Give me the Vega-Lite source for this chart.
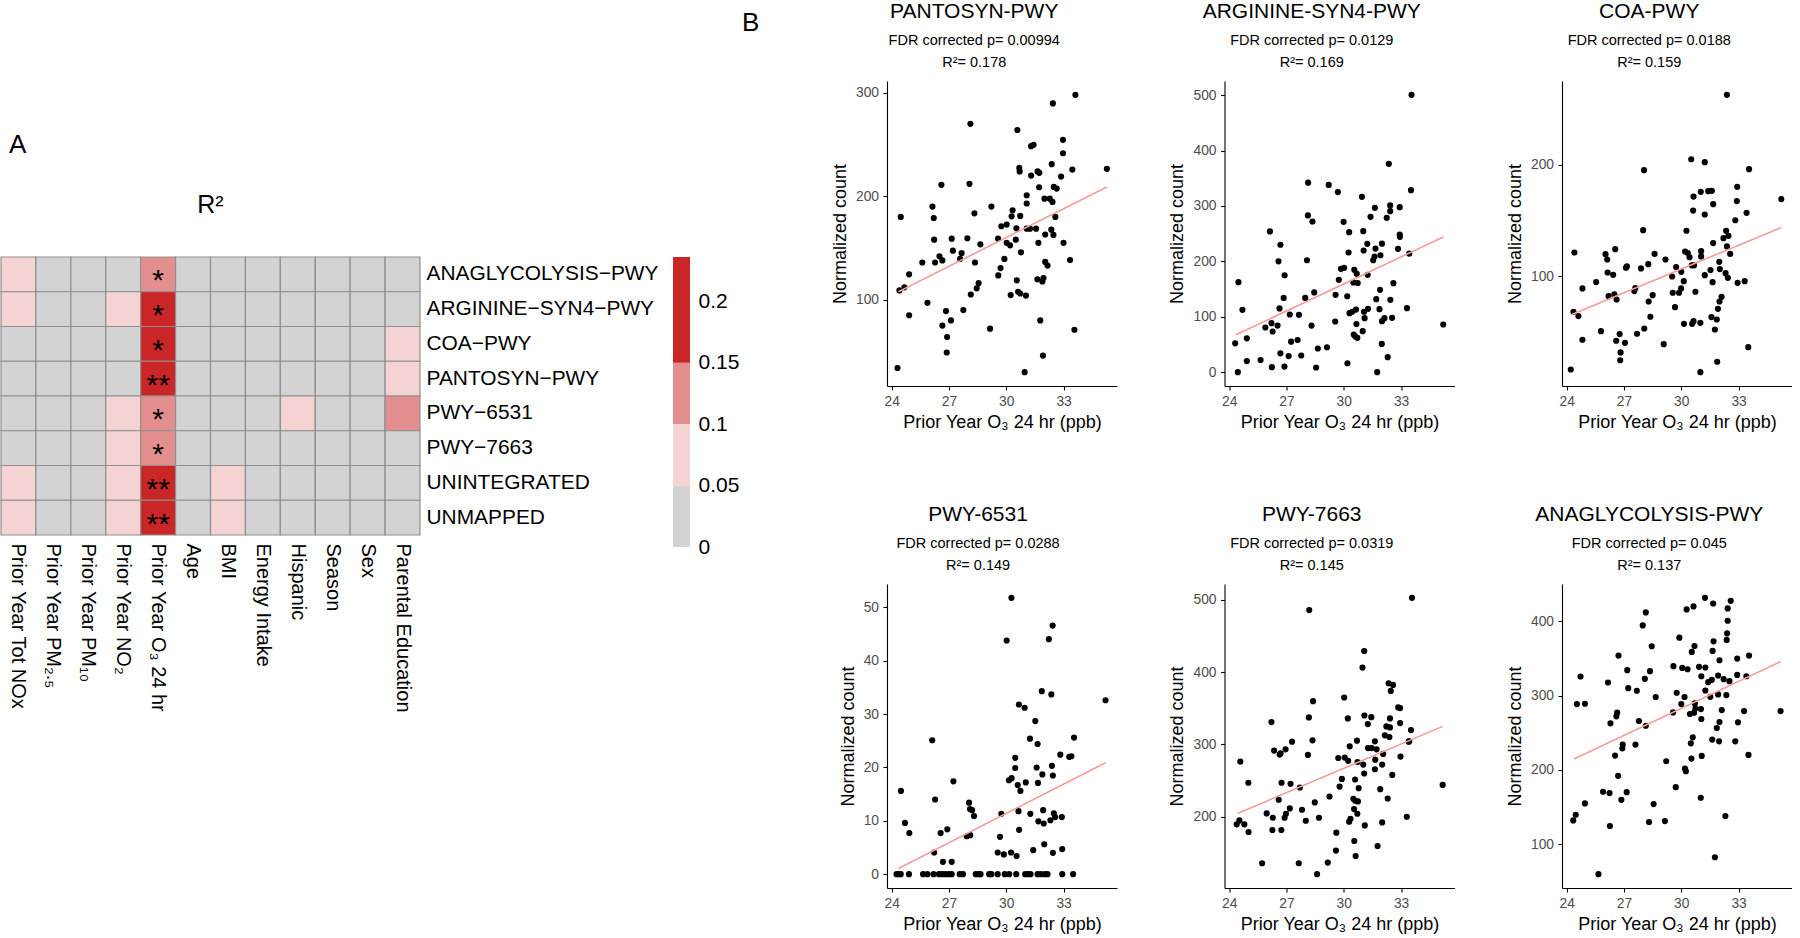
{
"$schema":"https://vega.github.io/schema/vega-lite/v6.json",
"padding":{"top":1,"left":0,"right":0,"bottom":0},
"background":"white",
"config":{
 "font":"Liberation Sans",
 "view":{"stroke":null},
 "axis":{"grid":false,"domainColor":"black","domainWidth":1.1,"tickColor":"black","tickWidth":1.1,"tickSize":4,"labelColor":"#4D4D4D","labelFontSize":13.8,"labelPadding":4.5,"labelFlush":false,"titleFontSize":18,"titleFontWeight":"normal","titleColor":"black","labelFont":"Liberation Sans","titleFont":"Liberation Sans"},
 "title":{"font":"Liberation Sans","subtitleFont":"Liberation Sans","fontWeight":"normal","fontSize":21,"subtitleFontSize":14.5,"subtitleLineHeight":22,"subtitlePadding":12,"offset":11.5,"anchor":"middle","frame":"bounds","color":"black","subtitleColor":"black"}
},
"datasets":{
 "heat":[
{"p":"ANAGLYCOLYSIS−PWY","v":"Prior Year Tot NOx","r2":0.07,"s":""},{"p":"ANAGLYCOLYSIS−PWY","v":"Prior Year PM₂.₅","r2":0.02,"s":""},{"p":"ANAGLYCOLYSIS−PWY","v":"Prior Year PM₁₀","r2":0.02,"s":""},{"p":"ANAGLYCOLYSIS−PWY","v":"Prior Year NO₂","r2":0.03,"s":""},{"p":"ANAGLYCOLYSIS−PWY","v":"Prior Year O₃ 24 hr","r2":0.137,"s":"*"},{"p":"ANAGLYCOLYSIS−PWY","v":"Age","r2":0.02,"s":""},{"p":"ANAGLYCOLYSIS−PWY","v":"BMI","r2":0.02,"s":""},{"p":"ANAGLYCOLYSIS−PWY","v":"Energy Intake","r2":0.02,"s":""},{"p":"ANAGLYCOLYSIS−PWY","v":"Hispanic","r2":0.02,"s":""},{"p":"ANAGLYCOLYSIS−PWY","v":"Season","r2":0.02,"s":""},{"p":"ANAGLYCOLYSIS−PWY","v":"Sex","r2":0.02,"s":""},{"p":"ANAGLYCOLYSIS−PWY","v":"Parental Education","r2":0.03,"s":""},
{"p":"ARGININE−SYN4−PWY","v":"Prior Year Tot NOx","r2":0.06,"s":""},{"p":"ARGININE−SYN4−PWY","v":"Prior Year PM₂.₅","r2":0.02,"s":""},{"p":"ARGININE−SYN4−PWY","v":"Prior Year PM₁₀","r2":0.02,"s":""},{"p":"ARGININE−SYN4−PWY","v":"Prior Year NO₂","r2":0.06,"s":""},{"p":"ARGININE−SYN4−PWY","v":"Prior Year O₃ 24 hr","r2":0.169,"s":"*"},{"p":"ARGININE−SYN4−PWY","v":"Age","r2":0.02,"s":""},{"p":"ARGININE−SYN4−PWY","v":"BMI","r2":0.02,"s":""},{"p":"ARGININE−SYN4−PWY","v":"Energy Intake","r2":0.02,"s":""},{"p":"ARGININE−SYN4−PWY","v":"Hispanic","r2":0.02,"s":""},{"p":"ARGININE−SYN4−PWY","v":"Season","r2":0.02,"s":""},{"p":"ARGININE−SYN4−PWY","v":"Sex","r2":0.02,"s":""},{"p":"ARGININE−SYN4−PWY","v":"Parental Education","r2":0.02,"s":""},
{"p":"COA−PWY","v":"Prior Year Tot NOx","r2":0.03,"s":""},{"p":"COA−PWY","v":"Prior Year PM₂.₅","r2":0.02,"s":""},{"p":"COA−PWY","v":"Prior Year PM₁₀","r2":0.02,"s":""},{"p":"COA−PWY","v":"Prior Year NO₂","r2":0.03,"s":""},{"p":"COA−PWY","v":"Prior Year O₃ 24 hr","r2":0.159,"s":"*"},{"p":"COA−PWY","v":"Age","r2":0.02,"s":""},{"p":"COA−PWY","v":"BMI","r2":0.02,"s":""},{"p":"COA−PWY","v":"Energy Intake","r2":0.02,"s":""},{"p":"COA−PWY","v":"Hispanic","r2":0.02,"s":""},{"p":"COA−PWY","v":"Season","r2":0.02,"s":""},{"p":"COA−PWY","v":"Sex","r2":0.02,"s":""},{"p":"COA−PWY","v":"Parental Education","r2":0.07,"s":""},
{"p":"PANTOSYN−PWY","v":"Prior Year Tot NOx","r2":0.03,"s":""},{"p":"PANTOSYN−PWY","v":"Prior Year PM₂.₅","r2":0.02,"s":""},{"p":"PANTOSYN−PWY","v":"Prior Year PM₁₀","r2":0.02,"s":""},{"p":"PANTOSYN−PWY","v":"Prior Year NO₂","r2":0.03,"s":""},{"p":"PANTOSYN−PWY","v":"Prior Year O₃ 24 hr","r2":0.178,"s":"**"},{"p":"PANTOSYN−PWY","v":"Age","r2":0.02,"s":""},{"p":"PANTOSYN−PWY","v":"BMI","r2":0.02,"s":""},{"p":"PANTOSYN−PWY","v":"Energy Intake","r2":0.02,"s":""},{"p":"PANTOSYN−PWY","v":"Hispanic","r2":0.02,"s":""},{"p":"PANTOSYN−PWY","v":"Season","r2":0.02,"s":""},{"p":"PANTOSYN−PWY","v":"Sex","r2":0.02,"s":""},{"p":"PANTOSYN−PWY","v":"Parental Education","r2":0.06,"s":""},
{"p":"PWY−6531","v":"Prior Year Tot NOx","r2":0.03,"s":""},{"p":"PWY−6531","v":"Prior Year PM₂.₅","r2":0.02,"s":""},{"p":"PWY−6531","v":"Prior Year PM₁₀","r2":0.02,"s":""},{"p":"PWY−6531","v":"Prior Year NO₂","r2":0.06,"s":""},{"p":"PWY−6531","v":"Prior Year O₃ 24 hr","r2":0.149,"s":"*"},{"p":"PWY−6531","v":"Age","r2":0.02,"s":""},{"p":"PWY−6531","v":"BMI","r2":0.02,"s":""},{"p":"PWY−6531","v":"Energy Intake","r2":0.02,"s":""},{"p":"PWY−6531","v":"Hispanic","r2":0.06,"s":""},{"p":"PWY−6531","v":"Season","r2":0.02,"s":""},{"p":"PWY−6531","v":"Sex","r2":0.02,"s":""},{"p":"PWY−6531","v":"Parental Education","r2":0.11,"s":""},
{"p":"PWY−7663","v":"Prior Year Tot NOx","r2":0.03,"s":""},{"p":"PWY−7663","v":"Prior Year PM₂.₅","r2":0.02,"s":""},{"p":"PWY−7663","v":"Prior Year PM₁₀","r2":0.02,"s":""},{"p":"PWY−7663","v":"Prior Year NO₂","r2":0.07,"s":""},{"p":"PWY−7663","v":"Prior Year O₃ 24 hr","r2":0.145,"s":"*"},{"p":"PWY−7663","v":"Age","r2":0.02,"s":""},{"p":"PWY−7663","v":"BMI","r2":0.02,"s":""},{"p":"PWY−7663","v":"Energy Intake","r2":0.02,"s":""},{"p":"PWY−7663","v":"Hispanic","r2":0.02,"s":""},{"p":"PWY−7663","v":"Season","r2":0.02,"s":""},{"p":"PWY−7663","v":"Sex","r2":0.02,"s":""},{"p":"PWY−7663","v":"Parental Education","r2":0.02,"s":""},
{"p":"UNINTEGRATED","v":"Prior Year Tot NOx","r2":0.06,"s":""},{"p":"UNINTEGRATED","v":"Prior Year PM₂.₅","r2":0.02,"s":""},{"p":"UNINTEGRATED","v":"Prior Year PM₁₀","r2":0.02,"s":""},{"p":"UNINTEGRATED","v":"Prior Year NO₂","r2":0.08,"s":""},{"p":"UNINTEGRATED","v":"Prior Year O₃ 24 hr","r2":0.21,"s":"**"},{"p":"UNINTEGRATED","v":"Age","r2":0.02,"s":""},{"p":"UNINTEGRATED","v":"BMI","r2":0.06,"s":""},{"p":"UNINTEGRATED","v":"Energy Intake","r2":0.02,"s":""},{"p":"UNINTEGRATED","v":"Hispanic","r2":0.02,"s":""},{"p":"UNINTEGRATED","v":"Season","r2":0.02,"s":""},{"p":"UNINTEGRATED","v":"Sex","r2":0.02,"s":""},{"p":"UNINTEGRATED","v":"Parental Education","r2":0.02,"s":""},
{"p":"UNMAPPED","v":"Prior Year Tot NOx","r2":0.06,"s":""},{"p":"UNMAPPED","v":"Prior Year PM₂.₅","r2":0.02,"s":""},{"p":"UNMAPPED","v":"Prior Year PM₁₀","r2":0.02,"s":""},{"p":"UNMAPPED","v":"Prior Year NO₂","r2":0.08,"s":""},{"p":"UNMAPPED","v":"Prior Year O₃ 24 hr","r2":0.21,"s":"**"},{"p":"UNMAPPED","v":"Age","r2":0.02,"s":""},{"p":"UNMAPPED","v":"BMI","r2":0.06,"s":""},{"p":"UNMAPPED","v":"Energy Intake","r2":0.02,"s":""},{"p":"UNMAPPED","v":"Hispanic","r2":0.02,"s":""},{"p":"UNMAPPED","v":"Season","r2":0.02,"s":""},{"p":"UNMAPPED","v":"Sex","r2":0.02,"s":""},{"p":"UNMAPPED","v":"Parental Education","r2":0.02,"s":""}
 ],
 "leg":[{"lo":0,"hi":0.05,"r2":0},{"lo":0.05,"hi":0.1,"r2":0.05},{"lo":0.1,"hi":0.15,"r2":0.1},{"lo":0.15,"hi":0.236,"r2":0.15}],
 "fit":[{"k":"a","x":24.35,"y":107.7},{"k":"a","x":35.27,"y":209},{"k":"b","x":24.35,"y":67.4},{"k":"b","x":35.21,"y":244},{"k":"c","x":24.26,"y":66},{"k":"c","x":35.24,"y":143.9},{"k":"d","x":24.33,"y":1.0},{"k":"d","x":35.2,"y":20.9},{"k":"e","x":24.43,"y":204.6},{"k":"e","x":35.18,"y":325},{"k":"f","x":24.38,"y":214.9},{"k":"f","x":35.2,"y":345.9}],
 "pts":[
{"k":"a","x":24.30,"y":34},{"k":"a","x":24.47,"y":180},{"k":"a","x":24.40,"y":109},{"k":"a","x":24.66,"y":112},{"k":"a","x":24.91,"y":124.5},{"k":"a","x":24.91,"y":85},{"k":"a","x":25.6,"y":136},{"k":"a","x":25.87,"y":97},{"k":"a","x":26.13,"y":190},{"k":"a","x":26.2,"y":179},{"k":"a","x":26.22,"y":158},{"k":"a","x":26.27,"y":136},{"k":"a","x":26.5,"y":142},{"k":"a","x":26.6,"y":211},{"k":"a","x":26.65,"y":138},{"k":"a","x":26.65,"y":75},{"k":"a","x":26.84,"y":89},{"k":"a","x":26.9,"y":64},{"k":"a","x":26.88,"y":49},{"k":"a","x":27.14,"y":159},{"k":"a","x":27.2,"y":147.4},{"k":"a","x":27.1,"y":80},{"k":"a","x":27.58,"y":139.4},{"k":"a","x":27.66,"y":145},{"k":"a","x":27.75,"y":90},{"k":"a","x":27.96,"y":159.4},{"k":"a","x":28.07,"y":212},{"k":"a","x":28.12,"y":270},{"k":"a","x":28.14,"y":105},{"k":"a","x":28.33,"y":183.5},{"k":"a","x":28.36,"y":136},{"k":"a","x":28.45,"y":111},{"k":"a","x":28.55,"y":116},{"k":"a","x":28.64,"y":153.5},{"k":"a","x":29.15,"y":72},{"k":"a","x":29.22,"y":190},{"k":"a","x":29.57,"y":159},{"k":"a","x":29.58,"y":123.5},{"k":"a","x":29.7,"y":130.6},{"k":"a","x":29.74,"y":171},{"k":"a","x":29.9,"y":139.4},{"k":"a","x":30.02,"y":172.6},{"k":"a","x":30.02,"y":155},{"k":"a","x":30.2,"y":152.6},{"k":"a","x":30.23,"y":104.5},{"k":"a","x":30.28,"y":180.6},{"k":"a","x":30.33,"y":186.5},{"k":"a","x":30.5,"y":158},{"k":"a","x":30.53,"y":169},{"k":"a","x":30.55,"y":118.7},{"k":"a","x":30.62,"y":107.7},{"k":"a","x":30.58,"y":264},{"k":"a","x":30.68,"y":227.4},{"k":"a","x":30.7,"y":224},{"k":"a","x":30.73,"y":181},{"k":"a","x":30.77,"y":145.8},{"k":"a","x":30.73,"y":106},{"k":"a","x":30.96,"y":30},{"k":"a","x":31.07,"y":201},{"k":"a","x":31.07,"y":193},{"k":"a","x":31.03,"y":104},{"k":"a","x":31.07,"y":168.7},{"k":"a","x":31.24,"y":168.7},{"k":"a","x":31.3,"y":220},{"k":"a","x":31.3,"y":248.4},{"k":"a","x":31.43,"y":249.7},{"k":"a","x":31.56,"y":168.7},{"k":"a","x":31.64,"y":224},{"k":"a","x":31.68,"y":155},{"k":"a","x":31.63,"y":119.7},{"k":"a","x":31.72,"y":208.7},{"k":"a","x":31.73,"y":222.6},{"k":"a","x":31.78,"y":80},{"k":"a","x":31.89,"y":117.7},{"k":"a","x":31.92,"y":46},{"k":"a","x":31.95,"y":121},{"k":"a","x":32.0,"y":197.7},{"k":"a","x":32.04,"y":163},{"k":"a","x":32.04,"y":136.5},{"k":"a","x":32.16,"y":133},{"k":"a","x":32.28,"y":197.7},{"k":"a","x":32.36,"y":167.7},{"k":"a","x":32.38,"y":231},{"k":"a","x":32.42,"y":194.5},{"k":"a","x":32.44,"y":289.7},{"k":"a","x":32.47,"y":162.6},{"k":"a","x":32.49,"y":209},{"k":"a","x":32.57,"y":180},{"k":"a","x":32.64,"y":207.4},{"k":"a","x":32.87,"y":219},{"k":"a","x":32.97,"y":241.6},{"k":"a","x":32.97,"y":254.5},{"k":"a","x":33.0,"y":155},{"k":"a","x":33.34,"y":138.4},{"k":"a","x":33.46,"y":225.8},{"k":"a","x":33.57,"y":71},{"k":"a","x":33.62,"y":298},{"k":"a","x":35.27,"y":226.5},
{"k":"b","x":24.31,"y":52},{"k":"b","x":24.45,"y":0},{"k":"b","x":24.48,"y":162.5},{"k":"b","x":24.69,"y":112.5},{"k":"b","x":24.92,"y":61},{"k":"b","x":24.92,"y":20},{"k":"b","x":25.64,"y":22},{"k":"b","x":25.89,"y":80.6},{"k":"b","x":26.13,"y":254},{"k":"b","x":26.21,"y":88.4},{"k":"b","x":26.27,"y":73.4},{"k":"b","x":26.23,"y":9},{"k":"b","x":26.53,"y":84},{"k":"b","x":26.58,"y":200},{"k":"b","x":26.63,"y":115},{"k":"b","x":26.68,"y":230},{"k":"b","x":26.68,"y":34},{"k":"b","x":26.85,"y":134},{"k":"b","x":26.9,"y":175},{"k":"b","x":26.89,"y":10},{"k":"b","x":27.11,"y":29},{"k":"b","x":27.17,"y":104},{"k":"b","x":27.24,"y":55},{"k":"b","x":27.58,"y":58},{"k":"b","x":27.65,"y":103.5},{"k":"b","x":27.77,"y":30},{"k":"b","x":27.98,"y":134},{"k":"b","x":28.07,"y":202},{"k":"b","x":28.12,"y":283},{"k":"b","x":28.13,"y":342},{"k":"b","x":28.31,"y":84},{"k":"b","x":28.36,"y":272},{"k":"b","x":28.45,"y":144},{"k":"b","x":28.55,"y":8.4},{"k":"b","x":28.64,"y":42.7},{"k":"b","x":29.12,"y":45},{"k":"b","x":29.21,"y":338},{"k":"b","x":29.55,"y":91.5},{"k":"b","x":29.57,"y":139.6},{"k":"b","x":29.69,"y":325},{"k":"b","x":29.74,"y":166.7},{"k":"b","x":29.85,"y":186.5},{"k":"b","x":29.99,"y":271.4},{"k":"b","x":30.02,"y":188.3},{"k":"b","x":30.18,"y":137},{"k":"b","x":30.19,"y":16},{"k":"b","x":30.25,"y":216},{"k":"b","x":30.28,"y":252.7},{"k":"b","x":30.3,"y":106.5},{"k":"b","x":30.44,"y":109},{"k":"b","x":30.5,"y":162},{"k":"b","x":30.52,"y":68},{"k":"b","x":30.55,"y":184.7},{"k":"b","x":30.61,"y":64.4},{"k":"b","x":30.64,"y":113},{"k":"b","x":30.66,"y":87},{"k":"b","x":30.68,"y":177.5},{"k":"b","x":30.71,"y":62},{"k":"b","x":30.73,"y":161},{"k":"b","x":30.95,"y":316.5},{"k":"b","x":30.99,"y":74},{"k":"b","x":31.02,"y":254.5},{"k":"b","x":31.04,"y":219.6},{"k":"b","x":31.06,"y":109},{"k":"b","x":31.09,"y":97.5},{"k":"b","x":31.23,"y":231.6},{"k":"b","x":31.25,"y":175.7},{"k":"b","x":31.27,"y":114.3},{"k":"b","x":31.4,"y":280.4},{"k":"b","x":31.54,"y":202},{"k":"b","x":31.61,"y":208.8},{"k":"b","x":31.63,"y":296.6},{"k":"b","x":31.66,"y":223},{"k":"b","x":31.7,"y":131.8},{"k":"b","x":31.75,"y":0},{"k":"b","x":31.87,"y":113.7},{"k":"b","x":31.9,"y":148.6},{"k":"b","x":31.92,"y":211},{"k":"b","x":31.99,"y":51},{"k":"b","x":32.0,"y":232},{"k":"b","x":32.0,"y":92},{"k":"b","x":32.13,"y":97.5},{"k":"b","x":32.25,"y":278.6},{"k":"b","x":32.3,"y":27},{"k":"b","x":32.36,"y":376},{"k":"b","x":32.43,"y":301},{"k":"b","x":32.43,"y":290.6},{"k":"b","x":32.44,"y":130.6},{"k":"b","x":32.53,"y":98},{"k":"b","x":32.6,"y":160.6},{"k":"b","x":32.84,"y":222.6},{"k":"b","x":32.93,"y":248.5},{"k":"b","x":32.93,"y":297.8},{"k":"b","x":32.94,"y":244.3},{"k":"b","x":33.31,"y":115.5},{"k":"b","x":33.43,"y":214},{"k":"b","x":33.52,"y":328.5},{"k":"b","x":33.55,"y":500.6},{"k":"b","x":35.21,"y":86},
{"k":"c","x":24.21,"y":16.7},{"k":"c","x":24.35,"y":68.4},{"k":"c","x":24.4,"y":121.5},{"k":"c","x":24.61,"y":64.5},{"k":"c","x":24.82,"y":89.3},{"k":"c","x":24.82,"y":43.3},{"k":"c","x":25.54,"y":95},{"k":"c","x":25.79,"y":51},{"k":"c","x":26.03,"y":120},{"k":"c","x":26.12,"y":115.2},{"k":"c","x":26.14,"y":103.6},{"k":"c","x":26.19,"y":82.4},{"k":"c","x":26.43,"y":101.5},{"k":"c","x":26.49,"y":84},{"k":"c","x":26.54,"y":124.5},{"k":"c","x":26.59,"y":42.4},{"k":"c","x":26.61,"y":79.4},{"k":"c","x":26.77,"y":48.4},{"k":"c","x":26.82,"y":32},{"k":"c","x":26.8,"y":25},{"k":"c","x":27.05,"y":40.6},{"k":"c","x":27.1,"y":107.8},{"k":"c","x":27.15,"y":109},{"k":"c","x":27.54,"y":86.9},{"k":"c","x":27.59,"y":89.6},{"k":"c","x":27.68,"y":48.7},{"k":"c","x":27.89,"y":107.2},{"k":"c","x":28.0,"y":141.5},{"k":"c","x":28.05,"y":195.2},{"k":"c","x":28.06,"y":53.4},{"k":"c","x":28.27,"y":111},{"k":"c","x":28.29,"y":77.6},{"k":"c","x":28.38,"y":63.9},{"k":"c","x":28.5,"y":83.3},{"k":"c","x":28.6,"y":120.3},{"k":"c","x":29.08,"y":39.4},{"k":"c","x":29.17,"y":115.2},{"k":"c","x":29.52,"y":100},{"k":"c","x":29.55,"y":85.4},{"k":"c","x":29.67,"y":72.5},{"k":"c","x":29.73,"y":108.4},{"k":"c","x":29.88,"y":85.4},{"k":"c","x":29.99,"y":89.3},{"k":"c","x":30.0,"y":104.2},{"k":"c","x":30.13,"y":95.8},{"k":"c","x":30.14,"y":57.6},{"k":"c","x":30.2,"y":122.4},{"k":"c","x":30.27,"y":141},{"k":"c","x":30.34,"y":121},{"k":"c","x":30.43,"y":117.3},{"k":"c","x":30.52,"y":205},{"k":"c","x":30.55,"y":110},{"k":"c","x":30.57,"y":57.6},{"k":"c","x":30.62,"y":159},{"k":"c","x":30.64,"y":171.6},{"k":"c","x":30.64,"y":60},{"k":"c","x":30.67,"y":110},{"k":"c","x":30.74,"y":86.3},{"k":"c","x":31.0,"y":58.5},{"k":"c","x":31.0,"y":14.3},{"k":"c","x":31.02,"y":175.8},{"k":"c","x":31.04,"y":118},{"k":"c","x":31.04,"y":122.7},{"k":"c","x":31.23,"y":155.5},{"k":"c","x":31.23,"y":202.4},{"k":"c","x":31.23,"y":101.2},{"k":"c","x":31.41,"y":176.4},{"k":"c","x":31.53,"y":105.7},{"k":"c","x":31.58,"y":63.6},{"k":"c","x":31.6,"y":176.7},{"k":"c","x":31.64,"y":94.9},{"k":"c","x":31.67,"y":129.9},{"k":"c","x":31.67,"y":164.8},{"k":"c","x":31.76,"y":52.5},{"k":"c","x":31.86,"y":61.5},{"k":"c","x":31.88,"y":23.6},{"k":"c","x":31.92,"y":71},{"k":"c","x":31.99,"y":113.1},{"k":"c","x":32.0,"y":77.6},{"k":"c","x":32.02,"y":106.6},{"k":"c","x":32.11,"y":81.8},{"k":"c","x":32.21,"y":134.3},{"k":"c","x":32.32,"y":103},{"k":"c","x":32.35,"y":140.9},{"k":"c","x":32.39,"y":262.7},{"k":"c","x":32.39,"y":126.9},{"k":"c","x":32.44,"y":98.8},{"k":"c","x":32.47,"y":136.4},{"k":"c","x":32.56,"y":120.3},{"k":"c","x":32.83,"y":150.4},{"k":"c","x":32.91,"y":167.5},{"k":"c","x":32.93,"y":180.3},{"k":"c","x":32.95,"y":94.3},{"k":"c","x":33.32,"y":95.8},{"k":"c","x":33.42,"y":157},{"k":"c","x":33.51,"y":36.7},{"k":"c","x":33.55,"y":196.1},{"k":"c","x":35.24,"y":169.3},
{"k":"d","x":24.25,"y":0},{"k":"d","x":24.37,"y":0},{"k":"d","x":24.47,"y":0},{"k":"d","x":24.48,"y":15.6},{"k":"d","x":24.69,"y":9.6},{"k":"d","x":24.9,"y":0},{"k":"d","x":24.92,"y":7.7},{"k":"d","x":25.64,"y":0},{"k":"d","x":25.87,"y":0},{"k":"d","x":26.12,"y":25.1},{"k":"d","x":26.19,"y":0},{"k":"d","x":26.22,"y":4.05},{"k":"d","x":26.27,"y":14},{"k":"d","x":26.47,"y":0},{"k":"d","x":26.56,"y":7.7},{"k":"d","x":26.64,"y":0},{"k":"d","x":26.68,"y":2.3},{"k":"d","x":26.81,"y":0},{"k":"d","x":26.91,"y":8.4},{"k":"d","x":26.98,"y":0},{"k":"d","x":27.14,"y":0},{"k":"d","x":27.14,"y":2.3},{"k":"d","x":27.23,"y":17.4},{"k":"d","x":27.56,"y":0},{"k":"d","x":27.73,"y":0},{"k":"d","x":27.93,"y":7.1},{"k":"d","x":28.05,"y":13.4},{"k":"d","x":28.1,"y":12.2},{"k":"d","x":28.11,"y":7.3},{"k":"d","x":28.21,"y":12},{"k":"d","x":28.31,"y":10.9},{"k":"d","x":28.4,"y":0},{"k":"d","x":28.55,"y":0},{"k":"d","x":28.65,"y":0},{"k":"d","x":29.1,"y":0},{"k":"d","x":29.22,"y":0},{"k":"d","x":29.55,"y":0},{"k":"d","x":29.55,"y":4.05},{"k":"d","x":29.67,"y":7.0},{"k":"d","x":29.74,"y":11.3},{"k":"d","x":29.87,"y":3.7},{"k":"d","x":29.92,"y":0},{"k":"d","x":30.02,"y":43.8},{"k":"d","x":30.14,"y":17.6},{"k":"d","x":30.15,"y":0},{"k":"d","x":30.25,"y":4.05},{"k":"d","x":30.27,"y":51.8},{"k":"d","x":30.28,"y":18},{"k":"d","x":30.47,"y":21.8},{"k":"d","x":30.47,"y":19.9},{"k":"d","x":30.52,"y":0},{"k":"d","x":30.54,"y":3.4},{"k":"d","x":30.6,"y":16.7},{"k":"d","x":30.64,"y":11.8},{"k":"d","x":30.66,"y":31.8},{"k":"d","x":30.67,"y":8.3},{"k":"d","x":30.74,"y":15.6},{"k":"d","x":30.96,"y":31.2},{"k":"d","x":30.99,"y":0},{"k":"d","x":31.02,"y":17.2},{"k":"d","x":31.14,"y":0},{"k":"d","x":31.24,"y":25.4},{"k":"d","x":31.26,"y":11.3},{"k":"d","x":31.27,"y":0},{"k":"d","x":31.41,"y":4.5},{"k":"d","x":31.52,"y":28.7},{"k":"d","x":31.59,"y":20},{"k":"d","x":31.64,"y":0},{"k":"d","x":31.64,"y":24.4},{"k":"d","x":31.66,"y":17.1},{"k":"d","x":31.68,"y":9.9},{"k":"d","x":31.81,"y":0},{"k":"d","x":31.86,"y":34.3},{"k":"d","x":31.89,"y":18.7},{"k":"d","x":31.93,"y":12},{"k":"d","x":31.96,"y":9.5},{"k":"d","x":31.99,"y":5.6},{"k":"d","x":32.01,"y":0},{"k":"d","x":32.16,"y":0},{"k":"d","x":32.23,"y":44.05},{"k":"d","x":32.31,"y":10.1},{"k":"d","x":32.36,"y":33.7},{"k":"d","x":32.39,"y":20.3},{"k":"d","x":32.43,"y":46.6},{"k":"d","x":32.44,"y":18.5},{"k":"d","x":32.44,"y":4},{"k":"d","x":32.49,"y":11.4},{"k":"d","x":32.56,"y":10.7},{"k":"d","x":32.83,"y":22.4},{"k":"d","x":32.91,"y":10.7},{"k":"d","x":32.93,"y":4.7},{"k":"d","x":32.93,"y":0},{"k":"d","x":33.3,"y":22},{"k":"d","x":33.41,"y":22.1},{"k":"d","x":33.5,"y":0},{"k":"d","x":33.55,"y":25.6},{"k":"d","x":35.2,"y":32.6},
{"k":"e","x":24.39,"y":189.5},{"k":"e","x":24.53,"y":195},{"k":"e","x":24.58,"y":276.3},{"k":"e","x":24.79,"y":189.5},{"k":"e","x":25.0,"y":247},{"k":"e","x":25.01,"y":179},{"k":"e","x":25.72,"y":135.7},{"k":"e","x":25.96,"y":204.6},{"k":"e","x":26.21,"y":331},{"k":"e","x":26.28,"y":198.7},{"k":"e","x":26.26,"y":181.7},{"k":"e","x":26.35,"y":291.5},{"k":"e","x":26.59,"y":223.5},{"k":"e","x":26.64,"y":286},{"k":"e","x":26.69,"y":287.8},{"k":"e","x":26.74,"y":247},{"k":"e","x":26.73,"y":181.7},{"k":"e","x":26.9,"y":198.7},{"k":"e","x":26.95,"y":293.3},{"k":"e","x":26.97,"y":204.2},{"k":"e","x":27.17,"y":211.5},{"k":"e","x":27.21,"y":245.5},{"k":"e","x":27.29,"y":303.9},{"k":"e","x":27.64,"y":135.7},{"k":"e","x":27.7,"y":240.5},{"k":"e","x":27.81,"y":209.7},{"k":"e","x":28.01,"y":194.5},{"k":"e","x":28.12,"y":285.5},{"k":"e","x":28.17,"y":337.4},{"k":"e","x":28.19,"y":485.8},{"k":"e","x":28.36,"y":305.7},{"k":"e","x":28.39,"y":359.9},{"k":"e","x":28.48,"y":219.8},{"k":"e","x":28.6,"y":120.6},{"k":"e","x":28.7,"y":198.7},{"k":"e","x":29.16,"y":136.7},{"k":"e","x":29.25,"y":228},{"k":"e","x":29.59,"y":153.2},{"k":"e","x":29.61,"y":178},{"k":"e","x":29.71,"y":281.3},{"k":"e","x":29.78,"y":241.8},{"k":"e","x":29.9,"y":252.4},{"k":"e","x":30.02,"y":364.9},{"k":"e","x":30.05,"y":281.8},{"k":"e","x":30.21,"y":336},{"k":"e","x":30.23,"y":277.2},{"k":"e","x":30.28,"y":193.2},{"k":"e","x":30.31,"y":297.4},{"k":"e","x":30.35,"y":197.3},{"k":"e","x":30.5,"y":224.9},{"k":"e","x":30.54,"y":210.6},{"k":"e","x":30.55,"y":166.5},{"k":"e","x":30.59,"y":251.5},{"k":"e","x":30.6,"y":222.1},{"k":"e","x":30.62,"y":145.8},{"k":"e","x":30.69,"y":305.2},{"k":"e","x":30.71,"y":204.2},{"k":"e","x":30.72,"y":275.8},{"k":"e","x":30.74,"y":221.2},{"k":"e","x":30.78,"y":239.6},{"k":"e","x":30.98,"y":406.3},{"k":"e","x":31.02,"y":272.2},{"k":"e","x":31.07,"y":429.3},{"k":"e","x":31.07,"y":259.8},{"k":"e","x":31.08,"y":340.1},{"k":"e","x":31.1,"y":188.1},{"k":"e","x":31.26,"y":328.2},{"k":"e","x":31.27,"y":295},{"k":"e","x":31.44,"y":337.8},{"k":"e","x":31.46,"y":295},{"k":"e","x":31.63,"y":304.3},{"k":"e","x":31.65,"y":279},{"k":"e","x":31.63,"y":265.7},{"k":"e","x":31.72,"y":293.3},{"k":"e","x":31.77,"y":159.6},{"k":"e","x":31.91,"y":238.2},{"k":"e","x":32.01,"y":192.2},{"k":"e","x":32.01,"y":272.2},{"k":"e","x":32.06,"y":286.9},{"k":"e","x":32.15,"y":312.6},{"k":"e","x":32.23,"y":325},{"k":"e","x":32.3,"y":225.3},{"k":"e","x":32.35,"y":384.7},{"k":"e","x":32.39,"y":310.3},{"k":"e","x":32.42,"y":323.6},{"k":"e","x":32.42,"y":336},{"k":"e","x":32.46,"y":374.1},{"k":"e","x":32.58,"y":382.4},{"k":"e","x":32.54,"y":257.9},{"k":"e","x":32.85,"y":351.2},{"k":"e","x":32.95,"y":350.3},{"k":"e","x":32.95,"y":329.6},{"k":"e","x":32.97,"y":283.2},{"k":"e","x":33.3,"y":200},{"k":"e","x":33.4,"y":303.9},{"k":"e","x":33.43,"y":304.3},{"k":"e","x":33.52,"y":319.9},{"k":"e","x":33.57,"y":502.8},{"k":"e","x":35.18,"y":244.1},
{"k":"f","x":24.34,"y":132.2},{"k":"f","x":24.47,"y":139.8},{"k":"f","x":24.53,"y":288.7},{"k":"f","x":24.72,"y":325.8},{"k":"f","x":24.95,"y":289.1},{"k":"f","x":24.95,"y":155},{"k":"f","x":25.66,"y":59.8},{"k":"f","x":25.9,"y":170.7},{"k":"f","x":26.16,"y":317.7},{"k":"f","x":26.24,"y":168.9},{"k":"f","x":26.26,"y":124.6},{"k":"f","x":26.29,"y":262.8},{"k":"f","x":26.53,"y":219.4},{"k":"f","x":26.6,"y":272.2},{"k":"f","x":26.64,"y":277.1},{"k":"f","x":26.69,"y":192.1},{"k":"f","x":26.71,"y":354},{"k":"f","x":26.86,"y":159.9},{"k":"f","x":26.91,"y":229.2},{"k":"f","x":26.93,"y":234.2},{"k":"f","x":27.14,"y":170.2},{"k":"f","x":27.17,"y":334.3},{"k":"f","x":27.22,"y":310.1},{"k":"f","x":27.6,"y":234.2},{"k":"f","x":27.67,"y":306.6},{"k":"f","x":27.78,"y":265.9},{"k":"f","x":27.98,"y":394.6},{"k":"f","x":28.09,"y":322.7},{"k":"f","x":28.14,"y":412.1},{"k":"f","x":28.14,"y":259.6},{"k":"f","x":28.31,"y":130},{"k":"f","x":28.36,"y":333},{"k":"f","x":28.45,"y":366.5},{"k":"f","x":28.55,"y":154.1},{"k":"f","x":28.66,"y":298.2},{"k":"f","x":29.14,"y":131.3},{"k":"f","x":29.21,"y":211.8},{"k":"f","x":29.57,"y":277.5},{"k":"f","x":29.59,"y":339.7},{"k":"f","x":29.71,"y":176.9},{"k":"f","x":29.76,"y":303.9},{"k":"f","x":29.9,"y":378.1},{"k":"f","x":30.0,"y":288.7},{"k":"f","x":30.05,"y":337.4},{"k":"f","x":30.17,"y":298.2},{"k":"f","x":30.19,"y":201.9},{"k":"f","x":30.24,"y":198.4},{"k":"f","x":30.28,"y":416.1},{"k":"f","x":30.33,"y":335.6},{"k":"f","x":30.45,"y":275.3},{"k":"f","x":30.5,"y":235.9},{"k":"f","x":30.53,"y":215.4},{"k":"f","x":30.55,"y":358.9},{"k":"f","x":30.6,"y":244},{"k":"f","x":30.64,"y":420.1},{"k":"f","x":30.67,"y":277.1},{"k":"f","x":30.69,"y":366.9},{"k":"f","x":30.71,"y":289.6},{"k":"f","x":30.74,"y":282.9},{"k":"f","x":30.93,"y":338.8},{"k":"f","x":31.02,"y":162.6},{"k":"f","x":31.03,"y":282},{"k":"f","x":31.05,"y":268.6},{"k":"f","x":31.05,"y":326.2},{"k":"f","x":31.07,"y":219},{"k":"f","x":31.24,"y":431.7},{"k":"f","x":31.26,"y":337.9},{"k":"f","x":31.26,"y":307},{"k":"f","x":31.41,"y":318.2},{"k":"f","x":31.52,"y":298.5},{"k":"f","x":31.6,"y":321.3},{"k":"f","x":31.62,"y":240.9},{"k":"f","x":31.64,"y":360.2},{"k":"f","x":31.67,"y":424.1},{"k":"f","x":31.69,"y":373.2},{"k":"f","x":31.76,"y":82.6},{"k":"f","x":31.86,"y":256.5},{"k":"f","x":31.93,"y":327.1},{"k":"f","x":31.93,"y":301.7},{"k":"f","x":31.98,"y":238.6},{"k":"f","x":32.0,"y":347.7},{"k":"f","x":32.0,"y":264.6},{"k":"f","x":32.12,"y":280.6},{"k":"f","x":32.22,"y":322.2},{"k":"f","x":32.31,"y":138},{"k":"f","x":32.36,"y":300.8},{"k":"f","x":32.38,"y":375},{"k":"f","x":32.4,"y":383.9},{"k":"f","x":32.43,"y":400.9},{"k":"f","x":32.43,"y":417.4},{"k":"f","x":32.52,"y":319.5},{"k":"f","x":32.59,"y":427.7},{"k":"f","x":32.83,"y":238.6},{"k":"f","x":32.93,"y":349.9},{"k":"f","x":32.93,"y":328},{"k":"f","x":32.97,"y":264.1},{"k":"f","x":33.29,"y":279.3},{"k":"f","x":33.41,"y":326.2},{"k":"f","x":33.52,"y":220.3},{"k":"f","x":33.55,"y":354},{"k":"f","x":35.2,"y":279.3}
 ]
},
"spacing":3,
"hconcat":[
 {
  "spacing":35,
  "vconcat":[
   {"width":419,"height":40,"data":{"values":[]},"mark":"rect","encoding":{},
    "title":{"text":"A","orient":"bottom","anchor":"start","frame":"group","fontSize":26,"offset":11,"dx":8}},
   {
    "spacing":15,
    "hconcat":[
     {
      "width":419,"height":278,
      "data":{"name":"heat"},
      "title":{"text":"R²","fontSize":25,"offset":38,"anchor":"middle","frame":"group"},
      "encoding":{
       "x":{"field":"v","type":"nominal","sort":["Prior Year Tot NOx","Prior Year PM₂.₅","Prior Year PM₁₀","Prior Year NO₂","Prior Year O₃ 24 hr","Age","BMI","Energy Intake","Hispanic","Season","Sex","Parental Education"],"scale":{"paddingInner":0,"paddingOuter":0},
            "axis":{"orient":"bottom","title":null,"labelAngle":90,"domain":false,"ticks":false,"labelPadding":8,"labelFontSize":20,"labelColor":"black","labelLimit":400}},
       "y":{"field":"p","type":"nominal","sort":["ANAGLYCOLYSIS−PWY","ARGININE−SYN4−PWY","COA−PWY","PANTOSYN−PWY","PWY−6531","PWY−7663","UNINTEGRATED","UNMAPPED"],"scale":{"paddingInner":0,"paddingOuter":0},
            "axis":{"orient":"right","title":null,"domain":false,"ticks":false,"labelPadding":6,"labelFontSize":20.9,"labelColor":"black","labelLimit":400}}
      },
      "layer":[
       {"mark":{"type":"rect","stroke":"#8F8F8F","strokeWidth":1.2},
        "encoding":{"color":{"field":"r2","type":"quantitative","scale":{"type":"threshold","domain":[0.05,0.1,0.15],"range":["#D3D3D3","#F5D3D3","#E48F8F","#CB2627"]},"legend":null}}},
       {"transform":[{"filter":"datum.s !== ''"}],
        "mark":{"type":"text","fontSize":30,"dy":7,"color":"black","font":"Liberation Sans"},
        "encoding":{"text":{"field":"s","type":"nominal"}}}
      ]
     },
     {
      "width":17,"height":290,
      "data":{"name":"leg"},
      "mark":{"type":"rect"},
      "encoding":{
       "y":{"field":"lo","type":"quantitative","scale":{"domain":[0,0.236],"nice":false,"zero":false},
            "axis":{"orient":"right","title":null,"values":[0,0.05,0.1,0.15,0.2],"format":"~g","domain":false,"ticks":false,"labelPadding":8,"labelFontSize":21,"labelColor":"black","labelOverlap":false,"labelFlush":false}},
       "y2":{"field":"hi"},
       "color":{"field":"r2","type":"quantitative","scale":{"type":"threshold","domain":[0.05,0.1,0.15],"range":["#D3D3D3","#F5D3D3","#E48F8F","#CB2627"]},"legend":null}
      }
     }
    ]
   }
  ]
 },
 {"width":85.5,"height":1,"data":{"values":[]},"mark":"rect","encoding":{},
  "title":{"text":"B","orient":"top","anchor":"start","frame":"group","fontSize":26,"offset":45}},
 {
  "spacing":72,
  "vconcat":[
   {"spacing":51.5,"hconcat":[
    {"width":230,"height":305,"title":{"text":"PANTOSYN-PWY","subtitle":["FDR corrected p= 0.00994","R²= 0.178"]},
     "layer":[
      {"data":{"name":"pts"},"transform":[{"filter":"datum.k==='a'"}],"mark":{"type":"circle","size":38,"color":"black","opacity":1},
       "encoding":{"x":{"field":"x","type":"quantitative","scale":{"domain":[23.75,35.8],"nice":false,"zero":false},"axis":{"values":[24,27,30,33],"title":"Prior Year O₃ 24 hr (ppb)","titlePadding":5}},
                   "y":{"field":"y","type":"quantitative","scale":{"domain":[16.6,311.4],"nice":false,"zero":false},"axis":{"values":[100,200,300],"title":"Normalized count","titlePadding":6}}}},
      {"data":{"name":"fit"},"transform":[{"filter":"datum.k==='a'"}],"mark":{"type":"line","color":"#F89B9B","strokeWidth":1.6},
       "encoding":{"x":{"field":"x","type":"quantitative"},"y":{"field":"y","type":"quantitative"}}}
     ]},
    {"width":230,"height":305,"title":{"text":"ARGININE-SYN4-PWY","subtitle":["FDR corrected p= 0.0129","R²= 0.169"]},
     "layer":[
      {"data":{"name":"pts"},"transform":[{"filter":"datum.k==='b'"}],"mark":{"type":"circle","size":38,"color":"black","opacity":1},
       "encoding":{"x":{"field":"x","type":"quantitative","scale":{"domain":[23.75,35.8],"nice":false,"zero":false},"axis":{"values":[24,27,30,33],"title":"Prior Year O₃ 24 hr (ppb)","titlePadding":5}},
                   "y":{"field":"y","type":"quantitative","scale":{"domain":[-25,525.6],"nice":false,"zero":false},"axis":{"values":[0,100,200,300,400,500],"title":"Normalized count","titlePadding":6}}}},
      {"data":{"name":"fit"},"transform":[{"filter":"datum.k==='b'"}],"mark":{"type":"line","color":"#F89B9B","strokeWidth":1.6},
       "encoding":{"x":{"field":"x","type":"quantitative"},"y":{"field":"y","type":"quantitative"}}}
     ]},
    {"width":230,"height":305,"title":{"text":"COA-PWY","subtitle":["FDR corrected p= 0.0188","R²= 0.159"]},
     "layer":[
      {"data":{"name":"pts"},"transform":[{"filter":"datum.k==='c'"}],"mark":{"type":"circle","size":38,"color":"black","opacity":1},
       "encoding":{"x":{"field":"x","type":"quantitative","scale":{"domain":[23.75,35.8],"nice":false,"zero":false},"axis":{"values":[24,27,30,33],"title":"Prior Year O₃ 24 hr (ppb)","titlePadding":5}},
                   "y":{"field":"y","type":"quantitative","scale":{"domain":[1.9,275.1],"nice":false,"zero":false},"axis":{"values":[100,200],"title":"Normalized count","titlePadding":6}}}},
      {"data":{"name":"fit"},"transform":[{"filter":"datum.k==='c'"}],"mark":{"type":"line","color":"#F89B9B","strokeWidth":1.6},
       "encoding":{"x":{"field":"x","type":"quantitative"},"y":{"field":"y","type":"quantitative"}}}
     ]}
   ]},
   {"spacing":51.5,"hconcat":[
    {"width":230,"height":304,"title":{"text":"PWY-6531","subtitle":["FDR corrected p= 0.0288","R²= 0.149"]},
     "layer":[
      {"data":{"name":"pts"},"transform":[{"filter":"datum.k==='d'"}],"mark":{"type":"circle","size":38,"color":"black","opacity":1},
       "encoding":{"x":{"field":"x","type":"quantitative","scale":{"domain":[23.75,35.8],"nice":false,"zero":false},"axis":{"values":[24,27,30,33],"title":"Prior Year O₃ 24 hr (ppb)","titlePadding":5}},
                   "y":{"field":"y","type":"quantitative","scale":{"domain":[-2.6,54.4],"nice":false,"zero":false},"axis":{"values":[0,10,20,30,40,50],"title":"Normalized count","titlePadding":6}}}},
      {"data":{"name":"fit"},"transform":[{"filter":"datum.k==='d'"}],"mark":{"type":"line","color":"#F89B9B","strokeWidth":1.6},
       "encoding":{"x":{"field":"x","type":"quantitative"},"y":{"field":"y","type":"quantitative"}}}
     ]},
    {"width":230,"height":304,"title":{"text":"PWY-7663","subtitle":["FDR corrected p= 0.0319","R²= 0.145"]},
     "layer":[
      {"data":{"name":"pts"},"transform":[{"filter":"datum.k==='e'"}],"mark":{"type":"circle","size":38,"color":"black","opacity":1},
       "encoding":{"x":{"field":"x","type":"quantitative","scale":{"domain":[23.75,35.8],"nice":false,"zero":false},"axis":{"values":[24,27,30,33],"title":"Prior Year O₃ 24 hr (ppb)","titlePadding":5}},
                   "y":{"field":"y","type":"quantitative","scale":{"domain":[101.5,521.9],"nice":false,"zero":false},"axis":{"values":[200,300,400,500],"title":"Normalized count","titlePadding":6}}}},
      {"data":{"name":"fit"},"transform":[{"filter":"datum.k==='e'"}],"mark":{"type":"line","color":"#F89B9B","strokeWidth":1.6},
       "encoding":{"x":{"field":"x","type":"quantitative"},"y":{"field":"y","type":"quantitative"}}}
     ]},
    {"width":230,"height":304,"title":{"text":"ANAGLYCOLYSIS-PWY","subtitle":["FDR corrected p= 0.045","R²= 0.137"]},
     "layer":[
      {"data":{"name":"pts"},"transform":[{"filter":"datum.k==='f'"}],"mark":{"type":"circle","size":38,"color":"black","opacity":1},
       "encoding":{"x":{"field":"x","type":"quantitative","scale":{"domain":[23.75,35.8],"nice":false,"zero":false},"axis":{"values":[24,27,30,33],"title":"Prior Year O₃ 24 hr (ppb)","titlePadding":5}},
                   "y":{"field":"y","type":"quantitative","scale":{"domain":[41.2,450.3],"nice":false,"zero":false},"axis":{"values":[100,200,300,400],"title":"Normalized count","titlePadding":6}}}},
      {"data":{"name":"fit"},"transform":[{"filter":"datum.k==='f'"}],"mark":{"type":"line","color":"#F89B9B","strokeWidth":1.6},
       "encoding":{"x":{"field":"x","type":"quantitative"},"y":{"field":"y","type":"quantitative"}}}
     ]}
   ]}
  ]
 }
]
}
